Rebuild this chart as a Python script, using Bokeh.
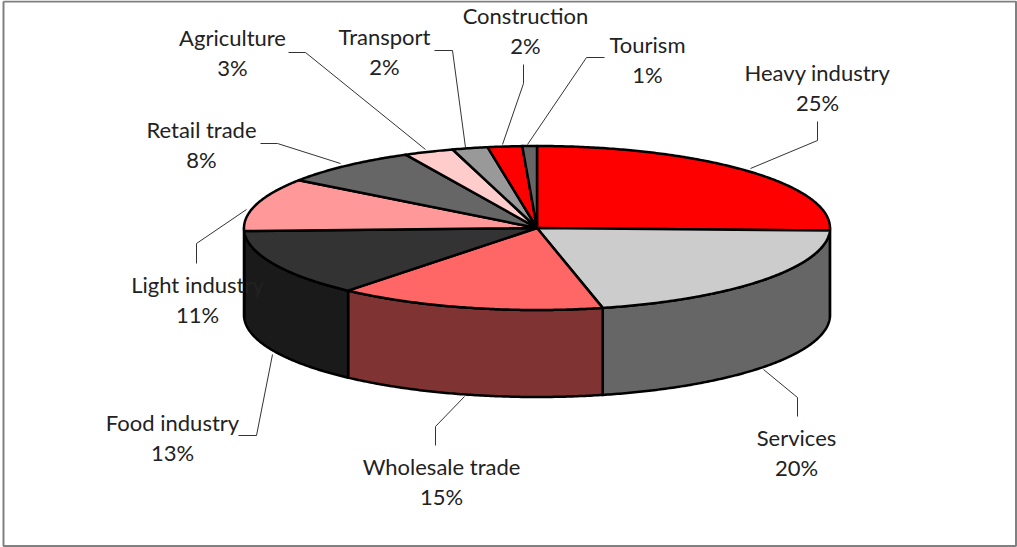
import numpy as np
from bokeh.plotting import figure
from bokeh.embed import file_html
from bokeh.resources import INLINE
from bokeh.core.properties import value

# ---- data ----
categories = ["Heavy industry", "Services", "Wholesale trade", "Food industry", "Light industry",
              "Retail trade", "Agriculture", "Transport", "Construction", "Tourism"]
shares = [25.5, 20.9, 14.75, 13.25, 10.5, 7.7, 2.75, 1.95, 1.9, 0.8]
percent_labels = ["25%", "20%", "15%", "13%", "11%", "8%", "3%", "2%", "2%", "1%"]

# ---- styles ----
top_colors = ["#FF0000", "#CCCCCC", "#FF6666", "#333333", "#FF9999",
              "#666666", "#FFCCCC", "#999999", "#FF0000", "#666666"]
side_colors = ["#800000", "#666666", "#803333", "#1A1A1A", "#804D4D",
               "#333333", "#806666", "#4D4D4D", "#800000", "#333333"]

# ---- layout, in page pixels ----
W, H = 1017, 547
CX, CY, RX, RY, DEPTH = 536.5, 227.5, 293.0, 82.0, 87.0
label_x = [817, 796, 441, 172, 197, 201, 232, 384, 525, 647]
label_y = [71.5, 436.5, 465.5, 421.5, 283.5, 128.5, 36.5, 35.5, 14.5, 43.5]
pct_y = [101.5, 466.5, 495.5, 451.5, 313.5, 158.5, 66.5, 65.5, 44.5, 73.5]
leader_x = [[817, 817, 750], [763, 797, 797], [464, 435, 435], [272, 256, 238], [246, 196, 196],
            [340, 277, 260], [425, 305, 288], [465, 452, 434], [502, 523, 523], [527, 586, 604]]
leader_y = [[121, 140, 168], [369, 397, 416], [396, 426, 445], [354, 435, 435], [209, 243, 263],
            [163, 143, 143], [149, 52, 52], [147, 50, 50], [144, 83, 64], [144, 57, 57]]

p = figure(width=W, height=H, x_range=(0, W), y_range=(H, 0), toolbar_location=None,
           output_backend="svg", min_border=0, outline_line_color=None,
           background_fill_color="white", border_fill_color="white")
p.axis.visible = False
p.grid.visible = False

# frame
p.line([3, 1015.5, 1015.5, 3, 3], [1, 1, 545.5, 545.5, 1], line_color="#808080", line_width=2)


def rim(a0, a1):
    t = np.radians(np.linspace(a0, a1, max(int(abs(a1 - a0) * 2), 2) + 1))
    return CX + RX * np.sin(t), CY - RY * np.cos(t)


edges = np.concatenate([[0], np.cumsum(shares)]) * 360.0 / sum(shares)

# walls of the front half
for i in range(len(shares)):
    a0, a1 = max(edges[i], 90.0), min(edges[i + 1], 270.0)
    if a0 >= a1:
        continue
    x, y = rim(a0, a1)
    p.patch(np.concatenate([x, x[::-1]]), np.concatenate([y, y[::-1] + DEPTH]),
            fill_color=side_colors[i], line_color="black", line_width=2.5, line_join="round")

# top slices
for i in range(len(shares)):
    x, y = rim(edges[i], edges[i + 1])
    p.patch(np.concatenate([[CX], x]), np.concatenate([[CY], y]),
            fill_color=top_colors[i], line_color="black", line_width=2.5, line_join="round")

# leaders
p.multi_line(leader_x, leader_y, line_color="#333333", line_width=1)

# labels
font = value("Lato")
p.text(label_x, label_y, text=categories, text_font=font, text_font_size="22px",
       text_align="center", text_baseline="middle", text_color="#222222")
p.text(label_x, pct_y, text=percent_labels, text_font=font, text_font_size="22px",
       text_align="center", text_baseline="middle", text_color="#222222")

open("out.html", "w").write(file_html(p, INLINE))
